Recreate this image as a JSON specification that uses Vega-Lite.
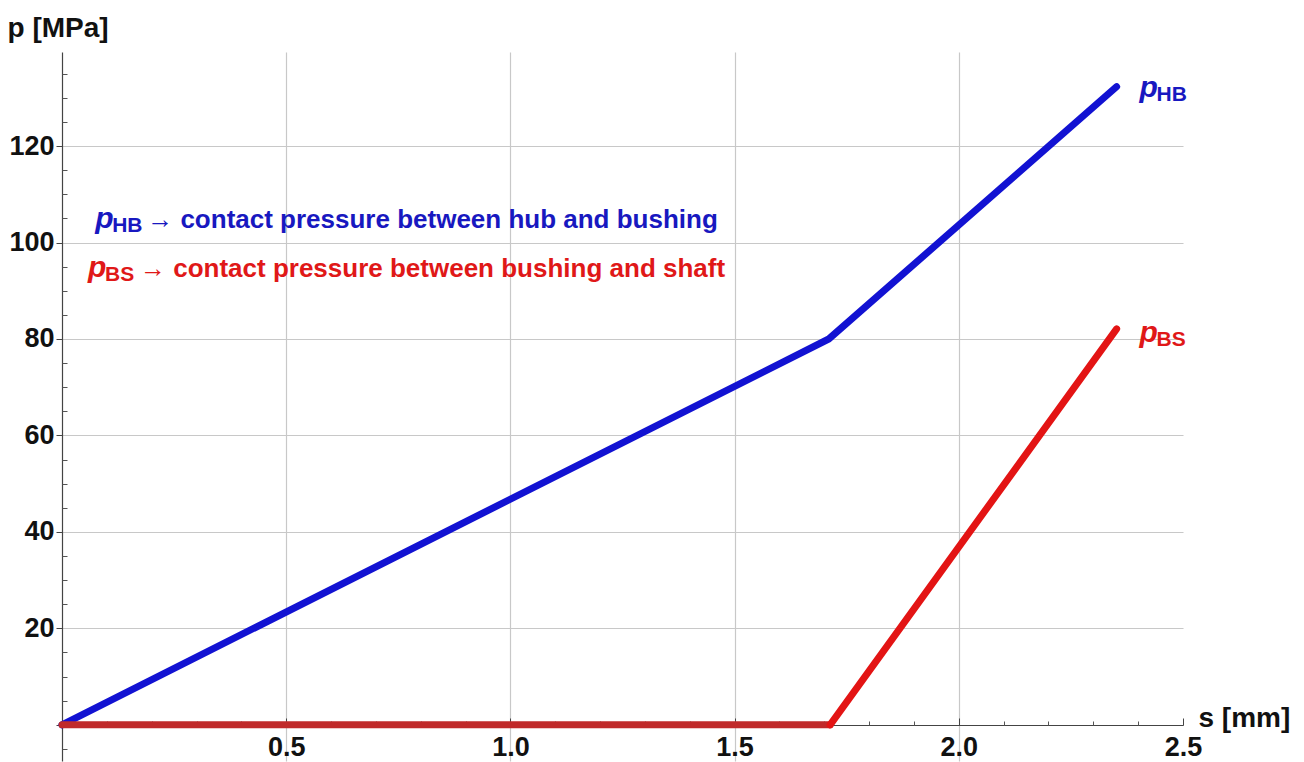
{
  "$schema": "https://vega.github.io/schema/vega-lite/v6.json",
  "width": 1121,
  "height": 709,
  "autosize": {"type": "none"},
  "padding": {"left": 62, "top": 52, "right": 121, "bottom": 1},
  "background": "white",
  "config": {"view": {"stroke": null}, "font": "Liberation Sans"},
  "datasets": {
    "curves": [
      {"s": 0, "p": 0, "seg": "HB"},
      {"s": 1.71, "p": 80, "seg": "HB"},
      {"s": 2.352, "p": 132.3, "seg": "HB"},
      {"s": 0, "p": 0, "seg": "BS flat"},
      {"s": 1.713, "p": 0, "seg": "BS flat"},
      {"s": 1.713, "p": 0, "seg": "BS rise"},
      {"s": 2.352, "p": 82.1, "seg": "BS rise"}
    ],
    "labels": [
      {"s": 0.074, "p": 103.0, "sub": "HB", "rest": "→ contact pressure between hub and bushing", "series": "HB"},
      {"s": 0.058, "p": 92.8, "sub": "BS", "rest": "→ contact pressure between bushing and shaft", "series": "BS"},
      {"s": 2.403, "p": 130.2, "sub": "HB", "rest": "", "series": "HB"},
      {"s": 2.403, "p": 79.4, "sub": "BS", "rest": "", "series": "BS"}
    ]
  },
  "layer": [
    {
      "layer": [
        {
          "data": {"name": "curves"},
          "mark": {"type": "line", "strokeWidth": 7, "strokeCap": "round"},
          "encoding": {
            "x": {
              "field": "s", "type": "quantitative",
              "scale": {"domain": [0, 2.5], "nice": false, "zero": false},
              "axis": {
                "orient": "bottom",
                "offset": -36,
                "values": [0.5, 1, 1.5, 2, 2.5],
                "format": ".1f",
                "grid": true,
                "gridColor": "#c8c8c8",
                "gridWidth": 1.2,
                "gridOpacity": {"condition": {"test": "datum.value >= 2.5", "value": 0}, "value": 1},
                "tickSize": -7,
                "tickColor": "#444",
                "tickWidth": 1,
                "domainColor": "#444",
                "domainWidth": 1.2,
                "labelFont": "Liberation Sans",
                "labelFontWeight": "bold",
                "labelFontSize": 27,
                "labelColor": "#111",
                "labelPadding": 16,
                "labelFlush": false,
                "labelOverlap": false,
                "title": "s [mm]",
                "titleFont": "Liberation Sans",
                "titleFontWeight": "bold",
                "titleFontSize": 28,
                "titleColor": "#111",
                "titleAlign": "left",
                "titleBaseline": "alphabetic",
                "titleX": 1136,
                "titleY": 1
              }
            },
            "y": {
              "field": "p", "type": "quantitative",
              "scale": {"domain": [-7.5, 139.5], "nice": false, "zero": false},
              "axis": {
                "orient": "left",
                "values": [0, 20, 40, 60, 80, 100, 120],
                "labelExpr": "datum.value == 0 ? '' : datum.label",
                "grid": true,
                "gridColor": "#c8c8c8",
                "gridWidth": 1.2,
                "tickSize": 6,
                "tickColor": "#444",
                "domainColor": "#444",
                "domainWidth": 1.2,
                "labelFont": "Liberation Sans",
                "labelFontWeight": "bold",
                "labelFontSize": 27,
                "labelColor": "#111",
                "labelPadding": 2,
                "labelOverlap": false,
                "title": "p [MPa]",
                "titleFont": "Liberation Sans",
                "titleFontWeight": "bold",
                "titleFontSize": 28,
                "titleColor": "#111",
                "titleAngle": 0,
                "titleAlign": "left",
                "titleBaseline": "alphabetic",
                "titleX": -55,
                "titleY": -16
              }
            },
            "color": {
              "field": "seg", "type": "nominal",
              "scale": {"domain": ["HB", "BS flat", "BS rise"], "range": ["#1212d2", "#c02a2a", "#e31414"]},
              "legend": null
            },
            "order": {"field": "s", "type": "quantitative"}
          }
        },
        {
          "data": {"name": "labels"},
          "mark": {"type": "text", "font": "Liberation Sans", "fontStyle": "italic", "fontWeight": "bold", "fontSize": 30, "align": "left", "baseline": "alphabetic"},
          "encoding": {
            "x": {"field": "s", "type": "quantitative"},
            "y": {"field": "p", "type": "quantitative"},
            "text": {"value": "p"},
            "color": {"field": "series", "type": "nominal", "scale": {"domain": ["HB", "BS"], "range": ["#1818c0", "#e01818"]}, "legend": null}
          }
        },
        {
          "data": {"name": "labels"},
          "mark": {"type": "text", "font": "Liberation Sans", "fontWeight": "bold", "fontSize": 21, "align": "left", "baseline": "alphabetic", "dx": 17, "dy": 4},
          "encoding": {
            "x": {"field": "s", "type": "quantitative"},
            "y": {"field": "p", "type": "quantitative"},
            "text": {"field": "sub"},
            "color": {"field": "series", "type": "nominal", "scale": {"domain": ["HB", "BS"], "range": ["#1818c0", "#e01818"]}, "legend": null}
          }
        },
        {
          "data": {"name": "labels"},
          "mark": {"type": "text", "font": "Liberation Sans", "fontWeight": "bold", "fontSize": 26, "align": "left", "baseline": "alphabetic", "dx": 52},
          "encoding": {
            "x": {"field": "s", "type": "quantitative"},
            "y": {"field": "p", "type": "quantitative"},
            "text": {"field": "rest"},
            "color": {"field": "series", "type": "nominal", "scale": {"domain": ["HB", "BS"], "range": ["#1818c0", "#e01818"]}, "legend": null}
          }
        }
      ],
      "resolve": {"scale": {"color": "independent"}}
    },
    {
      "data": {"name": "curves"},
      "mark": {"type": "point", "opacity": 0},
      "encoding": {
        "x": {
          "field": "s", "type": "quantitative",
          "scale": {"domain": [0, 2.5], "nice": false, "zero": false},
          "axis": {
            "orient": "bottom",
            "offset": -36,
            "values": [0.1, 0.2, 0.3, 0.4, 0.6, 0.7, 0.8, 0.9, 1.1, 1.2, 1.3, 1.4, 1.6, 1.7, 1.8, 1.9, 2.1, 2.2, 2.3, 2.4],
            "labels": false,
            "domain": false,
            "grid": false,
            "tickSize": -4,
            "tickColor": "#555",
            "title": null
          }
        },
        "y": {
          "field": "p", "type": "quantitative",
          "scale": {"domain": [-7.5, 139.5], "nice": false, "zero": false},
          "axis": {
            "orient": "left",
            "values": [-5, 5, 10, 15, 25, 30, 35, 45, 50, 55, 65, 70, 75, 85, 90, 95, 105, 110, 115, 125, 130, 135],
            "labels": false,
            "domain": false,
            "grid": false,
            "tickSize": -5,
            "tickColor": "#555",
            "title": null
          }
        }
      }
    }
  ],
  "resolve": {"scale": {"x": "independent", "y": "independent"}}
}
